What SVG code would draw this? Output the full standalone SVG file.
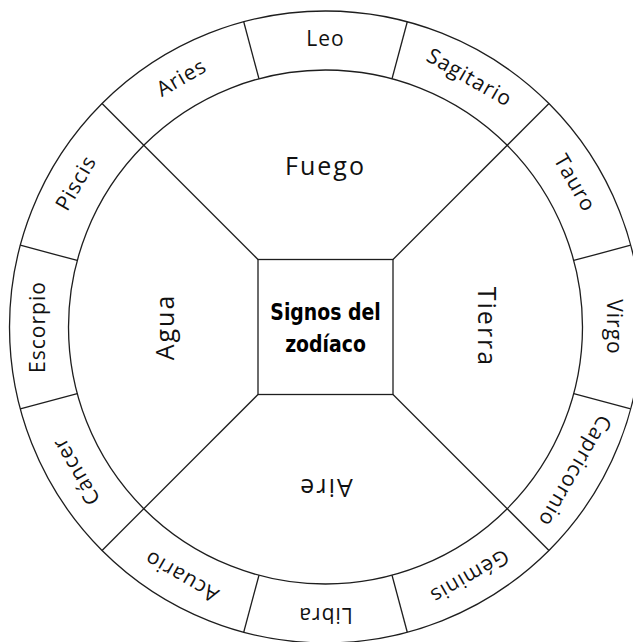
<svg xmlns="http://www.w3.org/2000/svg" width="633" height="642" viewBox="0 0 633 642">
<style>
.ln{fill:none;stroke:#1e1e1e;stroke-width:1.3}
.sign{font-family:"Open Sans","DejaVu Sans",sans-serif;font-size:21px;letter-spacing:1px;fill:#111;text-anchor:middle;dominant-baseline:central}
.elem{font-family:"Open Sans","DejaVu Sans",sans-serif;font-size:25px;letter-spacing:2px;fill:#111;text-anchor:middle;dominant-baseline:central}
.title{font-family:"DejaVu Sans",sans-serif;font-weight:900;font-size:23px;fill:#000;text-anchor:middle}
</style>
<rect width="633" height="642" fill="#fff"/>
<g id="ring">
<circle class="ln" cx="325.5" cy="327" r="316"/>
<circle class="ln" cx="325.5" cy="327" r="257"/>
</g>
<g id="connectors" class="ln">
<line x1="392.02" y1="78.76" x2="407.29" y2="21.77"/>
<line x1="573.74" y1="260.48" x2="630.73" y2="245.21"/>
<line x1="573.74" y1="393.52" x2="630.73" y2="408.79"/>
<line x1="392.02" y1="575.24" x2="407.29" y2="632.23"/>
<line x1="258.98" y1="575.24" x2="243.71" y2="632.23"/>
<line x1="77.26" y1="393.52" x2="20.27" y2="408.79"/>
<line x1="77.26" y1="260.48" x2="20.27" y2="245.21"/>
<line x1="258.98" y1="78.76" x2="243.71" y2="21.77"/>
<line x1="393" y1="259.5" x2="548.95" y2="103.55"/>
<line x1="393" y1="394.5" x2="548.95" y2="550.45"/>
<line x1="258" y1="394.5" x2="102.05" y2="550.45"/>
<line x1="258" y1="259.5" x2="102.05" y2="103.55"/>
</g>
<g id="center">
<rect class="ln" x="258" y="259.5" width="135" height="135"/>
<g transform="translate(325.5 0) scale(0.82 1)">
<text class="title" x="0" y="320">Signos del</text>
<text class="title" x="0" y="352">zodíaco</text>
</g>
</g>
<g id="fuego" transform="rotate(0 325.5 327)"><text class="elem" x="325.5" y="165">Fuego</text></g>
<g id="tierra" transform="rotate(90 325.5 327)"><text class="elem" x="325.5" y="165">Tierra</text></g>
<g id="aire" transform="rotate(180 325.5 327)"><text class="elem" x="325.5" y="165">Aire</text></g>
<g id="agua" transform="rotate(270 325.5 327)"><text class="elem" x="325.5" y="165">Agua</text></g>
<g id="leo" transform="rotate(0 325.5 327)"><text class="sign" x="325.5" y="38">Leo</text></g>
<g id="sagitario" transform="rotate(30 325.5 327)"><text class="sign" x="325.5" y="38">Sagitario</text></g>
<g id="tauro" transform="rotate(60 325.5 327)"><text class="sign" x="325.5" y="38">Tauro</text></g>
<g id="virgo" transform="rotate(90 325.5 327)"><text class="sign" x="325.5" y="38">Virgo</text></g>
<g id="capricornio" transform="rotate(120 325.5 327)"><text class="sign" x="325.5" y="38">Capricornio</text></g>
<g id="geminis" transform="rotate(150 325.5 327)"><text class="sign" x="325.5" y="38">Géminis</text></g>
<g id="libra" transform="rotate(180 325.5 327)"><text class="sign" x="325.5" y="38">Libra</text></g>
<g id="acuario" transform="rotate(210 325.5 327)"><text class="sign" x="325.5" y="38">Acuario</text></g>
<g id="cancer" transform="rotate(240 325.5 327)"><text class="sign" x="325.5" y="38">Cáncer</text></g>
<g id="escorpio" transform="rotate(270 325.5 327)"><text class="sign" x="325.5" y="38">Escorpio</text></g>
<g id="piscis" transform="rotate(300 325.5 327)"><text class="sign" x="325.5" y="38">Piscis</text></g>
<g id="aries" transform="rotate(330 325.5 327)"><text class="sign" x="325.5" y="38">Aries</text></g>
</svg>
